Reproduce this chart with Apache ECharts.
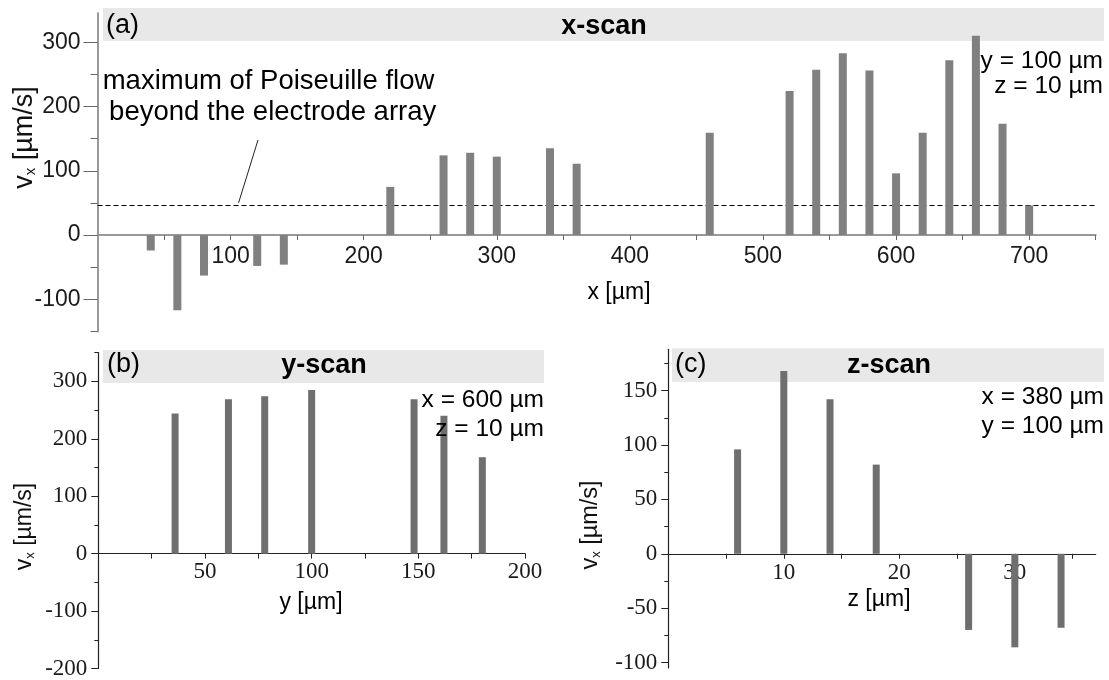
<!DOCTYPE html>
<html>
<head>
<meta charset="utf-8">
<script src="https://cdn.jsdelivr.net/npm/echarts@6/dist/echarts.min.js"></script>
<style>
  html, body { margin: 0; padding: 0; background: #fff; }
  #chart { width: 1109px; height: 680px; }
</style>
</head>
<body>
<div id="chart"></div>
<script>
// (a) x-scan at y = 100 µm, z = 10 µm: position x [µm] and velocity vx [µm/s]
const xScanPos = [40, 60, 80, 120, 140, 220, 260, 280, 300, 340, 360, 460, 520, 540, 560, 580, 600, 620, 640, 660, 680, 700];
const xScanVel = [-24, -117, -63, -48, -46, 75, 124, 128, 122, 135, 111, 159, 224, 257, 283, 256, 96, 159, 272, 310, 173, 46];
// maximum of the Poiseuille flow beyond the electrode array [µm/s]
const poiseuilleMax = 47;

// (b) y-scan at x = 600 µm, z = 10 µm
const yScanPos = [36, 61, 78, 100, 148, 162, 180];
const yScanVel = [244, 269, 274, 285, 269, 240, 168];

// (c) z-scan at x = 380 µm, y = 100 µm
const zScanPos = [6, 10, 14, 18, 26, 30, 34];
const zScanVel = [96, 168, 142, 82, -70, -86, -68];

// tick values
const xLabelsA = [100, 200, 300, 400, 500, 600, 700];
const xTicksA  = [50, 100, 150, 200, 250, 300, 350, 400, 450, 500, 550, 600, 650, 700, 750];
const vMajorA  = [-100, 0, 100, 200, 300];
const vMinorA  = [-150, -50, 50, 150, 250];

const yLabelsB = [50, 100, 150, 200];
const yTicksB  = [25, 50, 75, 100, 125, 150, 175, 200];
const vMajorB  = [-200, -100, 0, 100, 200, 300];
const vMinorB  = [-150, -50, 50, 150, 250, 350];

const zLabelsC = [10, 20, 30];
const zTicksC  = [5, 10, 15, 20, 25, 30, 35];
const vMajorC  = [-100, -50, 0, 50, 100, 150];
const vMinorC  = [-75, -25, 25, 75, 125, 175];

const SANS = '"Liberation Sans", Arial, Helvetica, sans-serif';
const SERIF = '"Liberation Serif", "Times New Roman", serif';

const pairs = (xs, vs) => xs.map((x, i) => [x, vs[i]]);

const chart = echarts.init(document.getElementById('chart'));

// grid boxes and velocity ranges of the three panels
const grids = [
  { left: 97.5, top: 13.3, width: 998.2, height: 318.2 },
  { left: 98.3, top: 352.7, width: 426.7, height: 316 },
  { left: 668.3, top: 349.3, width: 427.4, height: 318.7 }
];
const vRanges = [[-150, 345], [-200, 350], [-105, 188]];

// distance from the grid bottom up to the v = 0 line, so the x axis sits on zero
function zeroOffset(g) {
  const r = vRanges[g];
  return -(0 - r[0]) / (r[1] - r[0]) * grids[g].height;
}

// panel styles
const styleA = { line: '#999999', lineW: 2, tick: '#666666', font: SANS, color: '#1a1a1a' };
const styleBC = { line: '#222222', lineW: 1.2, tick: '#222222', font: SERIF, color: '#1a1a1a' };

function xAxis(grid, min, max, ticks, labels, st, tickLen, margin) {
  return {
    type: 'value', gridIndex: grid, min: min, max: max, position: 'bottom',
    offset: zeroOffset(grid),
    axisLine: { show: true, onZero: false, lineStyle: { color: st.line, width: st.lineW } },
    axisTick: { show: true, customValues: ticks, length: tickLen, lineStyle: { color: st.tick, width: 1 } },
    axisLabel: { show: true, customValues: labels, margin: margin, fontFamily: st.font, fontSize: 23, color: st.color },
    splitLine: { show: false }
  };
}
function yAxisMajor(grid, ticks, st, tickLen, margin) {
  return {
    type: 'value', gridIndex: grid, min: vRanges[grid][0], max: vRanges[grid][1], position: 'left',
    axisLine: { show: true, onZero: false, lineStyle: { color: st.line, width: st.lineW } },
    axisTick: { show: true, customValues: ticks, length: tickLen, lineStyle: { color: st.tick, width: 1 } },
    axisLabel: { show: true, customValues: ticks, margin: margin, fontFamily: st.font, fontSize: 23, color: st.color },
    splitLine: { show: false }
  };
}
function yAxisMinor(grid, ticks, st, tickLen) {
  return {
    type: 'value', gridIndex: grid, min: vRanges[grid][0], max: vRanges[grid][1], position: 'left',
    axisLine: { show: false, onZero: false },
    axisTick: { show: true, customValues: ticks, length: tickLen, lineStyle: { color: st.tick, width: 1 } },
    axisLabel: { show: false },
    splitLine: { show: false }
  };
}

function txt(x, y, text, size, align, extra) {
  return {
    type: 'text', x: x, y: y, z: 100, silent: true,
    style: Object.assign({
      text: text, fontFamily: SANS, fontSize: size, fill: '#000',
      align: align || 'center', verticalAlign: 'middle'
    }, extra || {})
  };
}
function vxTitle(x, y, size) {
  return {
    type: 'text', x: x, y: y, rotation: Math.PI / 2, z: 100, silent: true,
    style: {
      text: '{v|v}{s|x}{v| [µm/s]}',
      align: 'center', verticalAlign: 'middle',
      rich: {
        v: { fontFamily: SANS, fontSize: size, fill: '#111', lineHeight: size },
        s: { fontFamily: SANS, fontSize: Math.round(size * 0.55), fill: '#111',
             lineHeight: Math.round(size * 0.55), verticalAlign: 'bottom' }
      }
    }
  };
}
function band(x, y, w, h) {
  return { type: 'rect', z: 0, silent: true, shape: { x: x, y: y, width: w, height: h }, style: { fill: '#e8e8e8' } };
}

const option = {
  animation: false,
  backgroundColor: '#ffffff',
  grid: grids,
  xAxis: [
    xAxis(0, 0, 750, xTicksA, xLabelsA, styleA, 5, 10),
    xAxis(1, 0, 200, yTicksB, yLabelsB, styleBC, 5, 7),
    xAxis(2, 0, 37, zTicksC, zLabelsC, styleBC, 5, 8)
  ],
  yAxis: [
    yAxisMajor(0, vMajorA, styleA, 14, 17),
    yAxisMinor(0, vMinorA, styleA, 7),
    yAxisMajor(1, vMajorB, styleBC, 7, 11),
    yAxisMinor(1, vMinorB, styleBC, 4),
    yAxisMajor(2, vMajorC, styleBC, 7, 11),
    yAxisMinor(2, vMinorC, styleBC, 4)
  ],
  series: [
    {
      name: 'x-scan', type: 'bar', xAxisIndex: 0, yAxisIndex: 0, z: 5,
      data: pairs(xScanPos, xScanVel), barWidth: 8,
      itemStyle: { color: '#808080' },
      markLine: {
        silent: true, symbol: ['none', 'none'], label: { show: false },
        lineStyle: { color: '#000', type: [5, 3], width: 1.2 },
        data: [{ yAxis: poiseuilleMax }]
      }
    },
    {
      name: 'y-scan', type: 'bar', xAxisIndex: 1, yAxisIndex: 2, z: 5,
      data: pairs(yScanPos, yScanVel), barWidth: 7,
      itemStyle: { color: '#6f6f6f' }
    },
    {
      name: 'z-scan', type: 'bar', xAxisIndex: 2, yAxisIndex: 4, z: 5,
      data: pairs(zScanPos, zScanVel), barWidth: 7,
      itemStyle: { color: '#6f6f6f' }
    }
  ],
  graphic: [
    // header bands
    band(103, 8, 1001, 33),
    band(103, 350, 441, 33),
    band(672, 348.3, 432, 33.7),
    // panel (a)
    txt(106, 26, '(a)', 27, 'left'),
    txt(604, 26.5, 'x-scan', 27, 'center', { fontWeight: 'bold' }),
    txt(1103, 60.8, 'y = 100 µm', 24.5, 'right'),
    txt(1103, 86.5, 'z = 10 µm', 24.5, 'right'),
    txt(268.5, 81.2, 'maximum of Poiseuille flow', 27.5, 'center'),
    txt(272.7, 112.8, 'beyond the electrode array', 27.5, 'center'),
    txt(619, 293, 'x [µm]', 23, 'center'),
    vxTitle(25, 137.5, 27),
    // panel (b)
    txt(107, 365, '(b)', 27, 'left'),
    txt(324, 365.5, 'y-scan', 27, 'center', { fontWeight: 'bold' }),
    txt(544, 399.8, 'x = 600 µm', 24.5, 'right'),
    txt(544, 429.2, 'z = 10 µm', 24.5, 'right'),
    txt(311, 603, 'y [µm]', 23, 'center'),
    vxTitle(25, 526.5, 23),
    // panel (c)
    txt(675, 365, '(c)', 27, 'left'),
    txt(889, 365.5, 'z-scan', 27, 'center', { fontWeight: 'bold' }),
    txt(1104, 397.5, 'x = 380 µm', 24.5, 'right'),
    txt(1104, 425.8, 'y = 100 µm', 24.5, 'right'),
    txt(879, 600, 'z [µm]', 23, 'center'),
    vxTitle(591, 525, 23.5)
  ]
};

chart.setOption(option);

// leader line from the annotation down to the Poiseuille level
const tip = chart.convertToPixel({ gridIndex: 0 }, [106, poiseuilleMax]);
option.graphic.push({
  type: 'line', z: 100, silent: true,
  shape: { x1: 258, y1: 140, x2: tip[0], y2: tip[1] - 2 },
  style: { stroke: '#222', lineWidth: 1 }
});
chart.setOption({ graphic: option.graphic });
</script>
</body>
</html>
